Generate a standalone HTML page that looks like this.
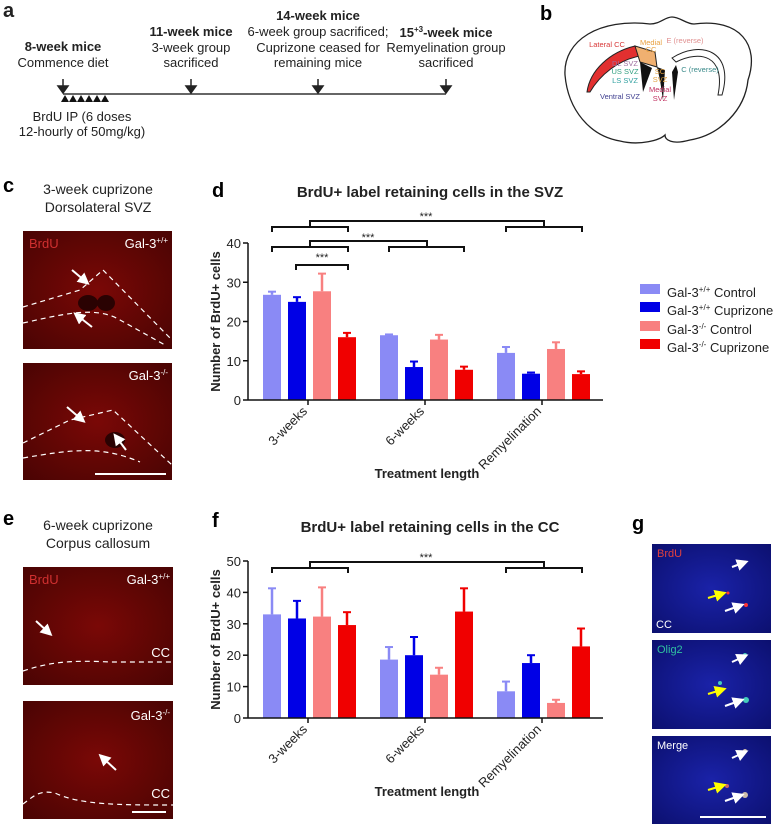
<!DOCTYPE html>
<html><head><meta charset="utf-8"><style>
body{margin:0;background:#fff;}
svg{display:block;font-family:"Liberation Sans",sans-serif;}
</style></head><body>
<svg id="root" width="778" height="825" viewBox="0 0 778 825">
<defs>
<radialGradient id="redg" cx="50%" cy="50%" r="70%"><stop offset="0" stop-color="#7a0806"/><stop offset="1" stop-color="#4a0403"/></radialGradient>
<radialGradient id="blug" cx="50%" cy="50%" r="70%"><stop offset="0" stop-color="#1a22a8"/><stop offset="1" stop-color="#0c1070"/></radialGradient>
<marker id="ah" markerWidth="6" markerHeight="6" refX="3" refY="3" orient="auto"><path d="M0,0 L6,3 L0,6 z" fill="#fff"/></marker>
<marker id="ahy" markerWidth="6" markerHeight="6" refX="3" refY="3" orient="auto"><path d="M0,0 L6,3 L0,6 z" fill="#ff0"/></marker>
</defs>

<!-- Panel a -->
<g font-size="13" text-anchor="middle" fill="#222">
<text x="3" y="17" font-size="20" font-weight="bold" text-anchor="start">a</text>
<text x="63" y="51" font-weight="bold">8-week mice</text>
<text x="63" y="67">Commence diet</text>
<text x="191" y="36" font-weight="bold">11-week mice</text>
<text x="191" y="52">3-week group</text>
<text x="191" y="67">sacrificed</text>
<text x="318" y="20" font-weight="bold">14-week mice</text>
<text x="318" y="36">6-week group sacrificed;</text>
<text x="318" y="52">Cuprizone ceased for</text>
<text x="318" y="67">remaining mice</text>
<text x="446" y="37" font-weight="bold">15<tspan font-size="8" dy="-5">+3</tspan><tspan dy="5">-week mice</tspan></text>
<text x="446" y="52">Remyelination group</text>
<text x="446" y="67">sacrificed</text>
<text x="82" y="121">BrdU IP (6 doses</text>
<text x="82" y="136">12-hourly of 50mg/kg)</text>
<line x1="63" y1="94" x2="446" y2="94" stroke="#333" stroke-width="1.5"/>
<g stroke="#222" stroke-width="1.5" fill="#222">
<line x1="63" y1="79" x2="63" y2="90"/><path d="M58,86 L68,86 L63,93z"/>
<line x1="191" y1="79" x2="191" y2="90"/><path d="M186,86 L196,86 L191,93z"/>
<line x1="318" y1="79" x2="318" y2="90"/><path d="M313,86 L323,86 L318,93z"/>
<line x1="446" y1="79" x2="446" y2="90"/><path d="M441,86 L451,86 L446,93z"/>
</g>
<g fill="#111"><path d="M61,102 L65,95 L69,102z"/><path d="M69,102 L73,95 L77,102z"/><path d="M77,102 L81,95 L85,102z"/><path d="M85,102 L89,95 L93,102z"/><path d="M93,102 L97,95 L101,102z"/><path d="M101,102 L105,95 L109,102z"/></g>
</g>

<!-- Panel b -->
<g>
<text x="540" y="20" font-size="20" font-weight="bold">b</text>
<path d="M565,75 C563,40 600,18 650,24 C660,24 665,17 672,17 C680,17 686,24 694,24 C740,18 760,45 748,80 C745,110 720,135 690,140 C672,145 665,140 665,135 C660,140 640,146 620,141 C590,136 568,110 565,75z" fill="#fff" stroke="#222" stroke-width="1.3"/>
<path d="M587,92 C590,70 610,52 635,46 L640,56 C618,60 600,75 590,92z" fill="#e23030" stroke="#222"/>
<path d="M635,46 L655,52 L657,67 L640,62z" fill="#f0b070" stroke="#222"/>
<path d="M640,62 L643,92 L652,68z" fill="#111"/>
<path d="M657,67 L660,80 L663,100 L665,70z" fill="#111"/>
<path d="M676,65 L672,72 L674,100 L678,72z" fill="#111"/>
<path d="M672,58 C700,40 735,50 722,95 L718,95 C726,55 700,50 676,62z" fill="#fff" stroke="#222"/>
<g font-size="7.5" text-anchor="middle">
<text x="607" y="47" fill="#d83838">Lateral CC</text>
<text x="651" y="45" fill="#e8a040">Medial</text><text x="651" y="52" fill="#e8a040">CC</text>
<text x="685" y="43" fill="#e09090">E (reverse)</text>
<text x="700" y="72" fill="#3a8a8a">C (reverse)</text>
<text x="625" y="66" fill="#a070a0">DL SVZ</text>
<text x="625" y="74" fill="#30a080">US SVZ</text>
<text x="625" y="83" fill="#30a0a0">LS SVZ</text>
<text x="620" y="99" fill="#404090">Ventral SVZ</text>
<text x="660" y="74" fill="#e0a040">SC</text><text x="660" y="82" fill="#e0a040">SVZ</text>
<text x="660" y="92" fill="#c03060">Medial</text><text x="660" y="101" fill="#c03060">SVZ</text>
</g>
</g>

<!-- Panel c images -->
<g>
<text x="3" y="192" font-size="20" font-weight="bold">c</text>
<text x="98" y="194" font-size="14" text-anchor="middle" fill="#222">3-week cuprizone</text>
<text x="98" y="212" font-size="14" text-anchor="middle" fill="#222">Dorsolateral SVZ</text>
<rect x="23" y="231" width="149" height="118" fill="url(#redg)"/>
<rect x="23" y="363" width="149" height="117" fill="url(#redg)"/>
<ellipse cx="88" cy="303" rx="10" ry="8" fill="#2a0202"/><ellipse cx="106" cy="303" rx="9" ry="8" fill="#2a0202"/>
<ellipse cx="115" cy="440" rx="10" ry="8" fill="#2a0202"/>
<g fill="none" stroke="#fff" stroke-width="1.2" stroke-dasharray="5,4">
<path d="M23,307 L80,290 L103,270 L172,340"/><path d="M23,323 C60,315 95,305 120,320 L165,345"/>
<path d="M23,443 L70,420 L113,410 L172,465"/><path d="M23,458 C70,450 100,445 140,462"/>
</g>
<text x="29" y="248" font-size="13" fill="#d03030">BrdU</text>
<text x="168" y="248" font-size="13" fill="#fff" text-anchor="end">Gal-3<tspan font-size="8" dy="-5">+/+</tspan></text>
<text x="168" y="380" font-size="13" fill="#fff" text-anchor="end">Gal-3<tspan font-size="8" dy="-5">-/-</tspan></text>
<g stroke="#fff" stroke-width="2" marker-end="url(#ah)">
<line x1="72" y1="270" x2="85" y2="281"/><line x1="92" y1="327" x2="78" y2="316"/>
<line x1="67" y1="407" x2="81" y2="419"/><line x1="126" y1="450" x2="117" y2="438"/>
</g>
<line x1="95" y1="474" x2="166" y2="474" stroke="#fff" stroke-width="2"/>
</g>

<!-- Panel e images -->
<g>
<text x="3" y="525" font-size="20" font-weight="bold">e</text>
<text x="98" y="530" font-size="14" text-anchor="middle" fill="#222">6-week cuprizone</text>
<text x="98" y="548" font-size="14" text-anchor="middle" fill="#222">Corpus callosum</text>
<rect x="23" y="567" width="150" height="118" fill="url(#redg)"/>
<rect x="23" y="701" width="150" height="118" fill="url(#redg)"/>
<g fill="none" stroke="#fff" stroke-width="1.2" stroke-dasharray="5,4">
<path d="M23,671 C50,662 70,660 110,662 L173,662"/><path d="M23,804 C35,795 40,790 55,793 C80,805 120,805 173,805"/>
</g>
<text x="29" y="584" font-size="13" fill="#d03030">BrdU</text>
<text x="170" y="584" font-size="13" fill="#fff" text-anchor="end">Gal-3<tspan font-size="8" dy="-5">+/+</tspan></text>
<text x="170" y="720" font-size="13" fill="#fff" text-anchor="end">Gal-3<tspan font-size="8" dy="-5">-/-</tspan></text>
<text x="170" y="657" font-size="13" fill="#fff" text-anchor="end">CC</text>
<text x="170" y="798" font-size="13" fill="#fff" text-anchor="end">CC</text>
<g stroke="#fff" stroke-width="2" marker-end="url(#ah)">
<line x1="36" y1="621" x2="48" y2="632"/><line x1="116" y1="770" x2="103" y2="758"/>
</g>
<line x1="132" y1="812" x2="166" y2="812" stroke="#fff" stroke-width="2"/>
</g>

<!-- Panel g images -->
<g>
<text x="632" y="530" font-size="20" font-weight="bold">g</text>
<rect x="652" y="544" width="119" height="89" fill="url(#blug)"/>
<rect x="652" y="640" width="119" height="89" fill="url(#blug)"/>
<rect x="652" y="736" width="119" height="88" fill="url(#blug)"/>
<text x="657" y="557" font-size="11" fill="#e04040">BrdU</text>
<text x="656" y="628" font-size="11" fill="#fff">CC</text>
<text x="657" y="653" font-size="11" fill="#30c0a0">Olig2</text>
<text x="657" y="749" font-size="11" fill="#fff">Merge</text>
<circle cx="745" cy="562" r="1.5" fill="#f33"/><circle cx="746" cy="605" r="2" fill="#f33"/><circle cx="728" cy="593" r="1.5" fill="#f33"/>
<circle cx="745" cy="655" r="2" fill="#4cb"/><circle cx="746" cy="700" r="3" fill="#4cb"/><circle cx="720" cy="683" r="2" fill="#4cb"/>
<circle cx="745" cy="751" r="2" fill="#cba"/><circle cx="745" cy="795" r="3" fill="#cba"/><circle cx="727" cy="786" r="2" fill="#c66"/>
<g stroke="#fff" stroke-width="2" marker-end="url(#ah)">
<line x1="732" y1="567" x2="743" y2="563"/><line x1="725" y1="611" x2="739" y2="606"/>
<line x1="732" y1="662" x2="743" y2="657"/><line x1="725" y1="706" x2="739" y2="701"/>
<line x1="732" y1="758" x2="743" y2="753"/><line x1="725" y1="801" x2="739" y2="796"/>
</g>
<g stroke="#ff0" stroke-width="2" marker-end="url(#ahy)">
<line x1="708" y1="598" x2="721" y2="594"/><line x1="708" y1="694" x2="721" y2="690"/><line x1="708" y1="790" x2="721" y2="786"/>
</g>
<line x1="700" y1="817" x2="766" y2="817" stroke="#fff" stroke-width="2"/>
</g>

<!-- Legend -->
<g font-size="13" fill="#222">
<rect x="640" y="284" width="20" height="10" fill="#8a8af5"/>
<text x="667" y="297">Gal-3<tspan font-size="8" dy="-5">+/+</tspan><tspan dy="5"> Control</tspan></text>
<rect x="640" y="302" width="20" height="10" fill="#0000e6"/>
<text x="667" y="315">Gal-3<tspan font-size="8" dy="-5">+/+</tspan><tspan dy="5"> Cuprizone</tspan></text>
<rect x="640" y="321" width="20" height="10" fill="#f88080"/>
<text x="667" y="334">Gal-3<tspan font-size="8" dy="-5">-/-</tspan><tspan dy="5"> Control</tspan></text>
<rect x="640" y="339" width="20" height="10" fill="#f00000"/>
<text x="667" y="352">Gal-3<tspan font-size="8" dy="-5">-/-</tspan><tspan dy="5"> Cuprizone</tspan></text>
</g>

<g id="chartD"></g>
<g id="chartF"></g>
</svg>
<script>
const categories = ["3-weeks", "6-weeks", "Remyelination"];
const seriesNames = ["Gal-3+/+ Control", "Gal-3+/+ Cuprizone", "Gal-3-/- Control", "Gal-3-/- Cuprizone"];
const seriesColors = ["#8a8af5", "#0000e6", "#f88080", "#f00000"];
const svzValues = [[26.8, 16.5, 12.0], [25.0, 8.4, 6.7], [27.7, 15.4, 13.0], [16.0, 7.7, 6.6]];
const svzErrors = [[0.8, 0.2, 1.5], [1.2, 1.4, 0.3], [4.5, 1.2, 1.7], [1.1, 0.8, 0.7]];
const svzTicks = [0, 10, 20, 30, 40];
const ccValues = [[33.0, 18.6, 8.5], [31.7, 20.0, 17.5], [32.3, 13.8, 4.8], [29.6, 33.9, 22.8]];
const ccErrors = [[8.3, 4.0, 3.1], [5.6, 5.8, 2.5], [9.3, 2.2, 1.0], [4.1, 7.4, 5.7]];
const ccTicks = [0, 10, 20, 30, 40, 50];

const NS = "http://www.w3.org/2000/svg";
function mk(parent, tag, attrs, text) {
  const e = document.createElementNS(NS, tag);
  for (const k in attrs) e.setAttribute(k, attrs[k]);
  if (text !== undefined) e.textContent = text;
  parent.appendChild(e);
  return e;
}

function drawChart(g, cfg) {
  const x0 = 248, x1 = 603, y0 = cfg.y0, yTop = cfg.yTop, yMax = cfg.ticks[cfg.ticks.length - 1];
  const yS = v => y0 - (v / yMax) * (y0 - yTop);
  const groupStart = i => 263 + i * 117;
  const barX = (i, s) => groupStart(i) + s * 25;
  const bw = 18;
  const t = mk(g, "text", {x: 212, y: cfg.letterY, "font-size": 20, "font-weight": "bold"}, cfg.letter);
  
  
  const title = mk(g, "text", {x: 430, y: cfg.titleY, "font-size": 15, "font-weight": "bold", "text-anchor": "middle", fill: "#222"}, cfg.title);
  
  
  for (let s = 0; s < 4; s++) {
    for (let i = 0; i < categories.length; i++) {
      const v = cfg.values[s][i], e = cfg.errors[s][i];
      const bx = barX(i, s), cx = bx + bw / 2;
      const el = mk(g, "line", {x1: cx, x2: cx, y1: yS(v), y2: yS(v + e), stroke: seriesColors[s], "stroke-width": 2.5});
      
      
      const cap = mk(g, "line", {x1: cx - 4, x2: cx + 4, y1: yS(v + e), y2: yS(v + e), stroke: seriesColors[s], "stroke-width": 2});
      
      
      const r = mk(g, "rect", {x: bx, y: yS(v), width: bw, height: y0 - yS(v), fill: seriesColors[s]});
      
      
    }
  }
  const ya = mk(g, "line", {x1: x0, x2: x0, y1: yTop, y2: y0, stroke: "#111", "stroke-width": 1.5});
  
  
  const xa = mk(g, "line", {x1: x0, x2: x1, y1: y0, y2: y0, stroke: "#111", "stroke-width": 1.5});
  
  
  cfg.ticks.forEach(tv => {
    mk(g, "line", {x1: x0 - 5, x2: x0, y1: yS(tv), y2: yS(tv), stroke: "#111", "stroke-width": 1.5});
    const tl = mk(g, "text", {x: x0 - 7, y: yS(tv) + 5, "font-size": 13, "text-anchor": "end", fill: "#222"}, tv);
    
    
  });
  categories.forEach((c, i) => {
    const cx = groupStart(i) + 45;
    mk(g, "line", {x1: cx, x2: cx, y1: y0, y2: y0 + 5, stroke: "#111", "stroke-width": 1.5});
    const tl = mk(g, "text", {x: cx, y: y0 + 12, "font-size": 13, "text-anchor": "end", fill: "#222", transform: `rotate(-45 ${cx} ${y0 + 12})`}, c);
    
    
  });
  const xt = mk(g, "text", {x: 427, y: y0 + 78, "font-size": 13, "font-weight": "bold", "text-anchor": "middle", fill: "#222"}, "Treatment length");
  
  
  const ty = (yTop + y0) / 2;
  const yt = mk(g, "text", {x: 220, y: ty, "font-size": 13, "font-weight": "bold", "text-anchor": "middle", fill: "#222", transform: `rotate(-90 220 ${ty})`}, "Number of BrdU+ cells");
  
  
  cfg.brackets.forEach(b => {
    const bg = mk(g, "g", {stroke: "#111", "stroke-width": 2, fill: "none"});
    
    
    b.arms.forEach(a => mk(bg, "path", {d: `M${a[0]},${b.y + 5} L${a[0]},${b.y} L${a[1]},${b.y} L${a[1]},${b.y + 5}`}));
    if (b.conn) mk(bg, "path", {d: `M${b.conn[0]},${b.y} L${b.conn[0]},${b.y - 6} L${b.conn[1]},${b.y - 6} L${b.conn[1]},${b.y}`});
    const s = mk(g, "text", {x: b.sx, y: b.sy, "font-size": 11, "text-anchor": "middle", fill: "#222"}, "***");
    
    
  });
}

drawChart(document.getElementById("chartD"), {
  letter: "d", letterY: 197, title: "BrdU+ label retaining cells in the SVZ", titleY: 197,
  y0: 400, yTop: 243, ticks: svzTicks, values: svzValues, errors: svzErrors,
  brackets: [
    {arms: [[272, 348], [506, 582]], y: 227, conn: [310, 544], sx: 426, sy: 220},
    {arms: [[272, 348], [389, 464]], y: 247, conn: [310, 427], sx: 368, sy: 241},
    {arms: [[296, 348]], y: 265, sx: 322, sy: 261}
  ]
});
drawChart(document.getElementById("chartF"), {
  letter: "f", letterY: 527, title: "BrdU+ label retaining cells in the CC", titleY: 532,
  y0: 718, yTop: 561, ticks: ccTicks, values: ccValues, errors: ccErrors,
  brackets: [
    {arms: [[272, 348], [506, 582]], y: 568, conn: [310, 544], sx: 426, sy: 561}
  ]
});
</script>
</body></html>
